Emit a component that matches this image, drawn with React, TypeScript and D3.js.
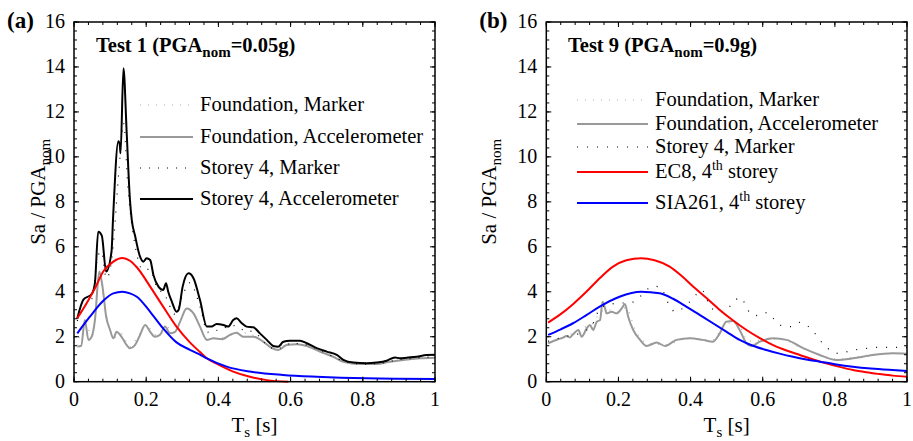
import React from "react";
import * as d3 from "d3";

// ---------- Panel (a) data ----------
const aS4AccX = [0.009,0.026,0.049,0.058,0.067,0.077,0.089,0.104,0.108,0.123,0.127,0.129,0.137,0.146,0.155,0.160,0.169,0.183,0.192,0.201,0.211,0.22,0.234,0.247,0.255,0.261,0.271,0.284,0.29,0.301,0.317,0.331,0.349,0.368,0.381,0.395,0.414,0.427,0.441,0.45,0.465,0.478,0.497,0.515,0.534,0.552,0.566,0.58,0.598,0.626,0.645,0.672,0.7,0.728,0.746,0.774,0.811,0.838,0.866,0.889,0.903,0.922,0.949,0.977,1.0];
const aS4AccY = [2.8,3.65,3.9,4.4,6.67,6.5,4.9,5.8,7.2,10.7,10.5,10.16,13.94,11.05,8.08,7.2,6.5,5.56,5.34,5.49,5.41,4.75,4.23,4.08,4.38,4.0,3.56,3.11,3.2,4.23,4.82,4.6,3.63,2.45,2.45,2.57,2.52,2.45,2.74,2.82,2.6,2.45,2.42,2.15,1.86,1.59,1.56,1.78,1.82,1.82,1.71,1.49,1.34,1.19,0.97,0.85,0.82,0.85,0.93,1.08,1.04,1.07,1.11,1.19,1.2];

const aFAccX = [0.009,0.02,0.03,0.04,0.049,0.058,0.07,0.079,0.089,0.1,0.109,0.118,0.127,0.137,0.146,0.155,0.169,0.183,0.197,0.211,0.224,0.238,0.252,0.266,0.28,0.294,0.312,0.331,0.349,0.368,0.386,0.41,0.432,0.45,0.469,0.497,0.524,0.548,0.566,0.589,0.617,0.645,0.681,0.718,0.746,0.792,0.838,0.875,0.912,0.958,1.0];
const aFAccY = [1.56,1.6,2.74,1.86,2.0,2.74,4.9,4.23,2.9,2.3,1.93,2.22,2.1,1.86,1.63,1.49,1.63,2.08,2.52,2.22,2.0,2.08,2.45,2.15,2.22,2.67,3.26,3.04,2.45,1.86,1.93,1.89,2.08,2.18,2.0,2.0,1.78,1.49,1.41,1.63,1.67,1.59,1.34,1.11,0.89,0.79,0.79,0.89,0.96,1.04,1.07];

const aS4MarkX = [0.009,0.03,0.05,0.065,0.075,0.09,0.105,0.125,0.137,0.15,0.17,0.19,0.21,0.23,0.25,0.28,0.3,0.32,0.35,0.37,0.4,0.44,0.47,0.5,0.53,0.56,0.6,0.64,0.7,0.75,0.8,0.85,0.9,0.95,1.0];
const aS4MarkY = [2.7,3.4,3.7,5.5,5.8,4.6,5.5,9.5,11.5,8.5,6.0,5.0,5.0,4.2,3.9,3.0,3.8,4.4,3.3,2.2,2.3,2.5,2.3,2.2,1.7,1.45,1.7,1.65,1.25,0.9,0.78,0.82,0.98,1.05,1.12];

const aFMarkX = [0.009,0.03,0.05,0.07,0.09,0.11,0.13,0.155,0.18,0.2,0.23,0.26,0.29,0.31,0.33,0.37,0.41,0.45,0.5,0.55,0.6,0.65,0.7,0.75,0.8,0.85,0.9,0.95,1.0];
const aFMarkY = [1.6,2.6,2.05,4.6,2.95,1.95,2.15,1.55,2.1,2.5,2.05,2.4,2.6,3.2,3.05,1.9,1.95,2.2,2.05,1.55,1.68,1.6,1.22,0.92,0.83,0.84,0.97,1.05,1.1];

const aEC8X = [0.009,0.035,0.058,0.081,0.109,0.134,0.155,0.174,0.211,0.247,0.284,0.321,0.349,0.368,0.395,0.441,0.487,0.534,0.594];
const aEC8Y = [2.82,3.49,4.15,4.9,5.34,5.5,5.38,5.09,4.23,3.34,2.45,1.75,1.32,1.04,0.8,0.45,0.22,0.07,0.0];

const aSIAX = [0.009,0.044,0.081,0.109,0.134,0.155,0.174,0.211,0.247,0.284,0.321,0.349,0.368,0.423,0.487,0.579,0.672,0.81,1.0];
const aSIAY = [2.15,2.89,3.6,3.93,4.0,3.93,3.78,3.11,2.37,1.75,1.42,1.2,1.04,0.67,0.45,0.3,0.22,0.15,0.12];

// ---------- Panel (b) data ----------
const bFAccX = [0.005,0.033,0.045,0.056,0.065,0.075,0.089,0.098,0.112,0.121,0.13,0.14,0.149,0.156,0.163,0.167,0.181,0.195,0.209,0.218,0.227,0.241,0.26,0.278,0.306,0.329,0.361,0.398,0.434,0.462,0.481,0.499,0.518,0.536,0.555,0.568,0.592,0.629,0.666,0.712,0.758,0.804,0.85,0.905,0.96,1.0];
const bFAccY = [1.71,1.89,1.95,2.03,1.97,2.12,2.3,2.0,2.37,2.52,2.3,2.67,2.74,3.56,3.26,3.04,3.11,3.04,3.26,3.46,2.89,2.3,1.86,1.59,1.74,1.59,1.86,1.93,1.86,1.78,2.15,2.67,2.7,2.3,1.71,1.59,1.78,1.93,1.86,1.49,1.19,0.97,1.04,1.19,1.26,1.24];

const bFMarkX = [0.005,0.04,0.08,0.11,0.13,0.15,0.17,0.2,0.22,0.25,0.28,0.33,0.4,0.46,0.5,0.53,0.56,0.6,0.65,0.7,0.76,0.8,0.85,0.9,0.95,1.0];
const bFMarkY = [1.75,1.95,2.2,2.45,2.6,3.1,3.2,3.1,3.3,2.2,1.7,1.65,1.95,1.85,2.6,2.6,1.8,1.85,1.9,1.55,1.2,1.0,1.08,1.2,1.25,1.25];

const bS4MarkX = [0.005,0.05,0.1,0.13,0.15,0.17,0.2,0.23,0.25,0.278,0.297,0.316,0.342,0.357,0.403,0.431,0.458,0.49,0.517,0.537,0.554,0.567,0.59,0.613,0.634,0.655,0.679,0.703,0.727,0.748,0.764,0.786,0.81,0.835,0.865,0.895,0.922,0.948,0.979,1.0];
const bS4MarkY = [1.8,2.0,2.2,2.6,3.3,3.4,3.5,3.5,3.63,4.08,4.25,4.2,3.37,3.11,3.63,4.08,3.26,3.1,3.49,3.75,3.38,3.0,2.94,3.08,2.74,2.48,2.45,2.64,2.45,2.08,1.75,1.41,1.26,1.34,1.44,1.49,1.53,1.53,1.53,1.53];

const bEC8X = [0.005,0.037,0.074,0.111,0.148,0.185,0.222,0.263,0.3,0.342,0.374,0.407,0.444,0.481,0.518,0.555,0.592,0.629,0.666,0.703,0.74,0.776,0.813,0.85,0.887,0.924,0.96,1.0];
const bEC8Y = [2.63,2.97,3.45,4.0,4.6,5.12,5.4,5.49,5.4,5.12,4.72,4.23,3.72,3.19,2.72,2.3,1.94,1.63,1.39,1.19,0.99,0.82,0.66,0.52,0.42,0.34,0.27,0.22];

const bSIAX = [0.005,0.04,0.074,0.11,0.148,0.203,0.263,0.314,0.35,0.388,0.425,0.462,0.5,0.536,0.573,0.61,0.647,0.684,0.721,0.758,0.8,0.85,0.9,0.95,1.0];
const bSIAY = [2.08,2.33,2.6,2.95,3.34,3.78,4.0,3.93,3.7,3.34,2.97,2.6,2.22,1.86,1.6,1.41,1.25,1.11,0.99,0.89,0.78,0.67,0.59,0.53,0.48];

const xTicks = [0, 0.2, 0.4, 0.6, 0.8, 1];
const xTickLabels = ["0", "0.2", "0.4", "0.6", "0.8", "1"];
const yTicks = [0, 2, 4, 6, 8, 10, 12, 14, 16];

const FONT = "Liberation Serif, DejaVu Serif, Times New Roman, serif";

type Series = {
  x: number[];
  y: number[];
  color: string;
  width: number;
  dash?: string;
};

type LegendItem = { label: React.ReactNode; s: Series };

function zip(xs: number[], ys: number[]): [number, number][] {
  return xs.map((x, i) => [x, ys[i]]);
}

function Panel(props: {
  left: number;
  right: number;
  top: number;
  bottom: number;
  tag: string;
  title: React.ReactNode;
  series: Series[];
  legend: LegendItem[];
  legendX0: number;
  legendX1: number;
  legendYs: number[];
  ylabelX: number;
}) {
  const { left, right, top, bottom } = props;
  const x = d3.scaleLinear().domain([0, 1]).range([left, right]);
  const y = d3.scaleLinear().domain([0, 16]).range([bottom, top]);
  const line = d3
    .line<[number, number]>()
    .x((d) => x(d[0]))
    .y((d) => y(d[1]))
    .curve(d3.curveMonotoneX);
  const xMinor = d3.range(0, 1.0001, 0.04);
  const yMinor = d3.range(0, 16.0001, 0.4);
  return (
    <g style={{ fontFamily: FONT }}>
      <defs>
        <clipPath id={"clip" + props.tag}>
          <rect x={left} y={top} width={right - left} height={bottom - top} />
        </clipPath>
      </defs>
      <g clipPath={`url(#clip${props.tag})`}>
        {props.series.map((s, i) => (
          <path
            key={i}
            d={line(zip(s.x, s.y)) || ""}
            fill="none"
            stroke={s.color}
            strokeWidth={s.width}
            strokeDasharray={s.dash}
            strokeLinejoin="round"
          />
        ))}
      </g>
      {xMinor.map((t, i) => (
        <g key={"xm" + i}>
          <line x1={x(t)} x2={x(t)} y1={bottom} y2={bottom - 3} stroke="#000" strokeWidth={1} />
          <line x1={x(t)} x2={x(t)} y1={top} y2={top + 3} stroke="#000" strokeWidth={1} />
        </g>
      ))}
      {yMinor.map((t, i) => (
        <g key={"ym" + i}>
          <line x1={left} x2={left + 3} y1={y(t)} y2={y(t)} stroke="#000" strokeWidth={1} />
          <line x1={right} x2={right - 3} y1={y(t)} y2={y(t)} stroke="#000" strokeWidth={1} />
        </g>
      ))}
      {xTicks.map((t, i) => (
        <g key={"xt" + i}>
          <line x1={x(t)} x2={x(t)} y1={bottom} y2={bottom - 5} stroke="#000" strokeWidth={1} />
          <line x1={x(t)} x2={x(t)} y1={top} y2={top + 5} stroke="#000" strokeWidth={1} />
          <text x={x(t)} y={bottom + 24} textAnchor="middle" fontSize={20}>
            {xTickLabels[i]}
          </text>
        </g>
      ))}
      {yTicks.map((t, i) => (
        <g key={"yt" + i}>
          <line x1={left} x2={left + 5} y1={y(t)} y2={y(t)} stroke="#000" strokeWidth={1} />
          <line x1={right} x2={right - 5} y1={y(t)} y2={y(t)} stroke="#000" strokeWidth={1} />
          <text x={left - 9} y={y(t) + 6} textAnchor="end" fontSize={20}>
            {t}
          </text>
        </g>
      ))}
      <rect x={left} y={top} width={right - left} height={bottom - top} fill="none" stroke="#000" strokeWidth={1.5} />
      <text x={(left + right) / 2} y={bottom + 50} textAnchor="middle" fontSize={21}>
        T<tspan fontSize={15} dy={5}>s</tspan>
        <tspan dy={-5}> [s]</tspan>
      </text>
      <text
        transform={`translate(${props.ylabelX},${(top + bottom) / 2 - 10}) rotate(-90)`}
        textAnchor="middle"
        fontSize={21}
      >
        Sa / PGA<tspan fontSize={15} dy={5}>nom</tspan>
      </text>
      <text x={left - 67} y={28} fontSize={23} fontWeight="bold">
        {props.tag}
      </text>
      {props.title}
      {props.legend.map((it, i) => (
        <g key={"lg" + i}>
          <line
            x1={props.legendX0}
            x2={props.legendX1}
            y1={props.legendYs[i]}
            y2={props.legendYs[i]}
            stroke={it.s.color}
            strokeWidth={it.s.width}
            strokeDasharray={it.s.dash}
          />
          <text x={props.legendX1 + 7} y={props.legendYs[i] + 6} fontSize={20.5}>
            {it.label}
          </text>
        </g>
      ))}
    </g>
  );
}

export default function App() {
  const top = 22;
  const bottom = 381.7;

  const aFMark: Series = { x: aFMarkX, y: aFMarkY, color: "#b0b0b0", width: 1.2, dash: "1,7" };
  const aFAcc: Series = { x: aFAccX, y: aFAccY, color: "#999999", width: 2 };
  const aS4Mark: Series = { x: aS4MarkX, y: aS4MarkY, color: "#000", width: 1.2, dash: "1,8" };
  const aS4Acc: Series = { x: aS4AccX, y: aS4AccY, color: "#000", width: 2 };
  const aEC8: Series = { x: aEC8X, y: aEC8Y, color: "#ff0000", width: 2 };
  const aSIA: Series = { x: aSIAX, y: aSIAY, color: "#0000ff", width: 2 };

  const bFMark: Series = { x: bFMarkX, y: bFMarkY, color: "#b0b0b0", width: 1.2, dash: "1,7" };
  const bFAcc: Series = { x: bFAccX, y: bFAccY, color: "#999999", width: 2 };
  const bS4Mark: Series = { x: bS4MarkX, y: bS4MarkY, color: "#000", width: 1.2, dash: "1,9" };
  const bEC8: Series = { x: bEC8X, y: bEC8Y, color: "#ff0000", width: 2 };
  const bSIA: Series = { x: bSIAX, y: bSIAY, color: "#0000ff", width: 2 };

  return (
    <svg
      width={913}
      height={441}
      style={{ position: "absolute", left: 0, top: 0, background: "#fff" }}
    >
      <Panel
        left={74}
        right={435}
        top={top}
        bottom={bottom}
        tag="(a)"
        ylabelX={45}
        series={[aFMark, aFAcc, aS4Mark, aS4Acc, aEC8, aSIA]}
        title={
          <text x={96} y={52} fontSize={20.5} fontWeight="bold">
            Test 1 (PGA<tspan fontSize={15} dy={5}>nom</tspan>
            <tspan dy={-5}>=0.05g)</tspan>
          </text>
        }
        legendX0={140}
        legendX1={193}
        legendYs={[105, 137, 168, 199]}
        legend={[
          { label: "Foundation, Marker", s: aFMark },
          { label: "Foundation, Accelerometer", s: aFAcc },
          { label: "Storey 4, Marker", s: aS4Mark },
          { label: "Storey 4, Accelerometer", s: aS4Acc },
        ]}
      />
      <Panel
        left={546.3}
        right={907}
        top={top}
        bottom={bottom}
        tag="(b)"
        ylabelX={496}
        series={[bFMark, bFAcc, bS4Mark, bEC8, bSIA]}
        title={
          <text x={568} y={52} fontSize={20.5} fontWeight="bold">
            Test 9 (PGA<tspan fontSize={15} dy={5}>nom</tspan>
            <tspan dy={-5}>=0.9g)</tspan>
          </text>
        }
        legendX0={577}
        legendX1={648}
        legendYs={[100, 124, 147, 172, 203]}
        legend={[
          { label: "Foundation, Marker", s: bFMark },
          { label: "Foundation, Accelerometer", s: bFAcc },
          { label: "Storey 4, Marker", s: bS4Mark },
          {
            label: (
              <>
                EC8, 4<tspan fontSize={14} dy={-8}>th</tspan>
                <tspan dy={8}> storey</tspan>
              </>
            ),
            s: bEC8,
          },
          {
            label: (
              <>
                SIA261, 4<tspan fontSize={14} dy={-8}>th</tspan>
                <tspan dy={8}> storey</tspan>
              </>
            ),
            s: bSIA,
          },
        ]}
      />
    </svg>
  );
}
